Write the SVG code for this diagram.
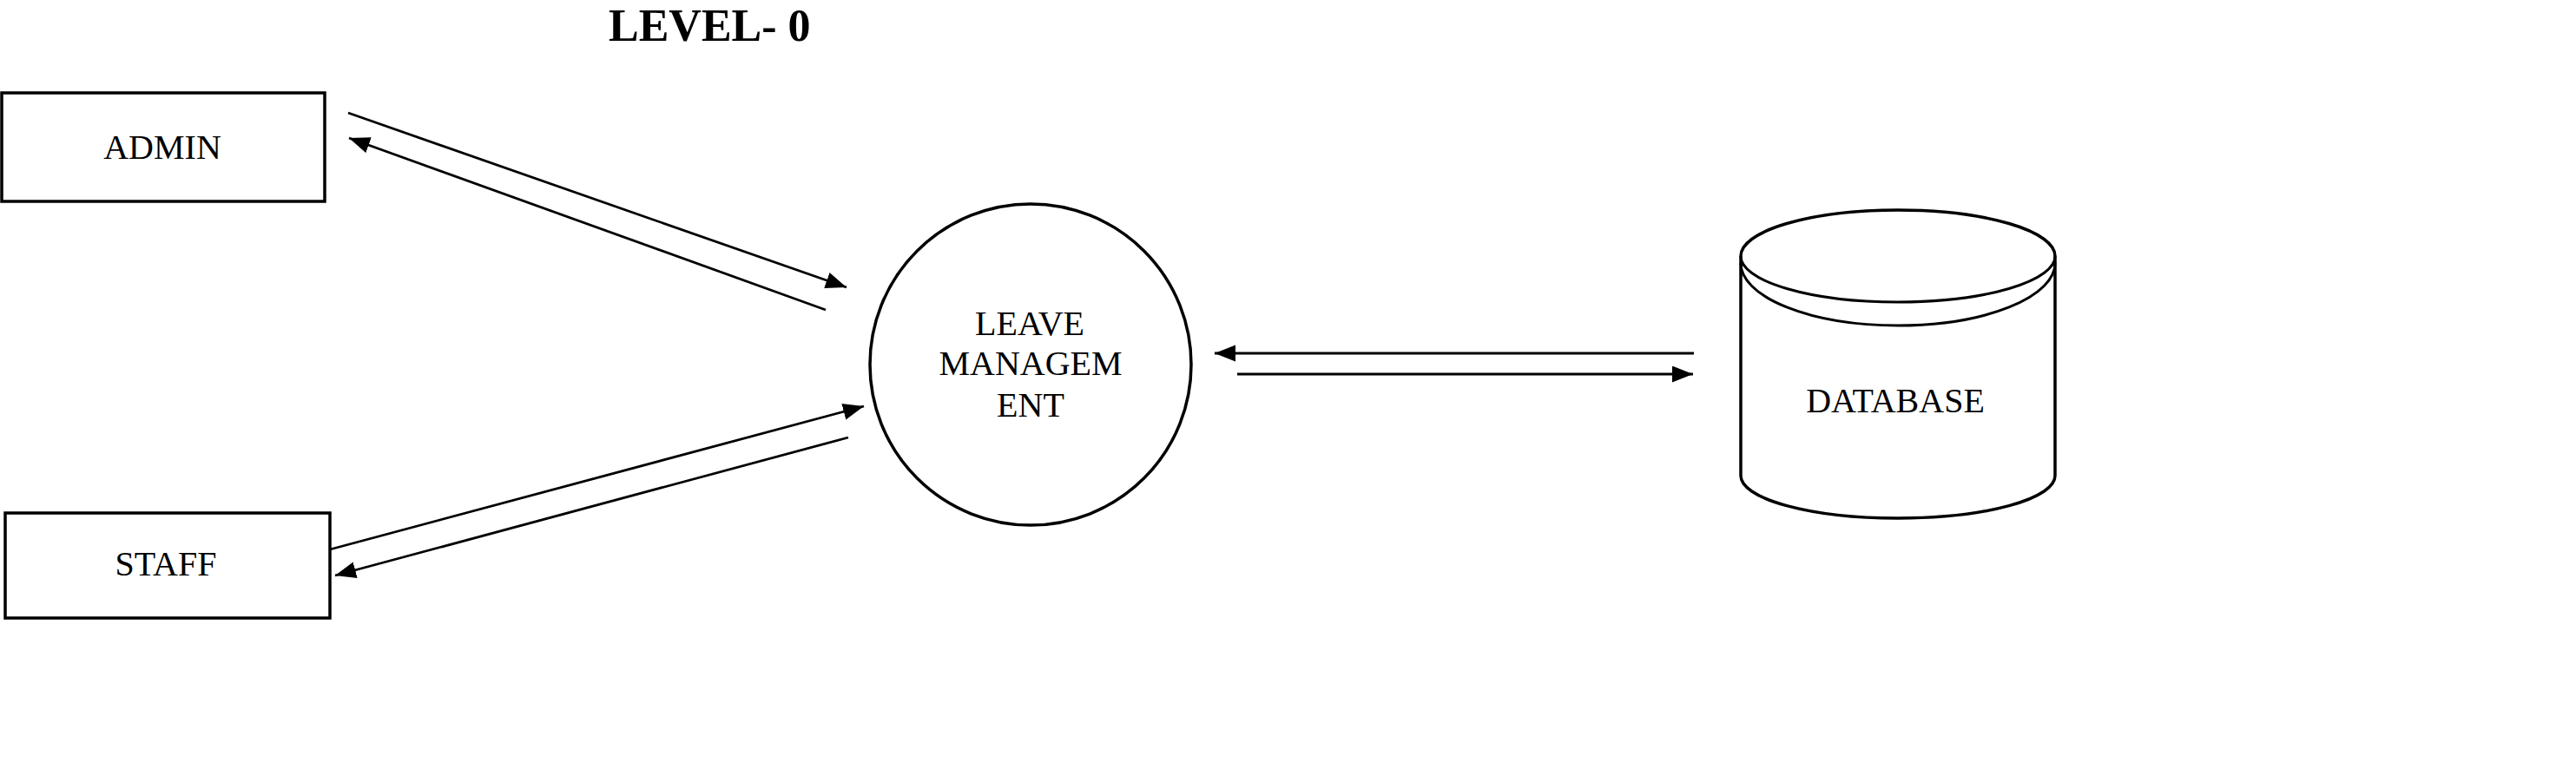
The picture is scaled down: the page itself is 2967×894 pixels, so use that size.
<svg xmlns="http://www.w3.org/2000/svg" width="2967" height="894" viewBox="0 0 2967 894">
<style>
.lbl{font-family:"Liberation Serif","Times New Roman",serif;font-size:40px;fill:#000;text-anchor:middle}
.title{font-family:"Liberation Serif","Times New Roman",serif;font-size:52px;font-weight:bold;fill:#000}
.box{fill:#fff;stroke:#000;stroke-width:3.5}
.shape{fill:#fff;stroke:#000;stroke-width:3.5}
.flow{fill:none;stroke:#000;stroke-width:2.8;marker-end:url(#ah)}
</style>
<defs>
<marker id="ah" markerUnits="userSpaceOnUse" markerWidth="26" markerHeight="20" refX="24" refY="9.5" orient="auto">
<path d="M0,0 L24,9.5 L0,19 z" fill="#000"/>
</marker>
</defs>
<rect width="2967" height="894" fill="#fff"/>
<text class="title" x="701" y="47">LEVEL- 0</text>
<g id="admin">
<rect class="box" x="2" y="107" width="372" height="125"/>
<text class="lbl" x="187" y="183">ADMIN</text>
</g>
<g id="staff">
<rect class="box" x="6" y="591" width="374" height="121"/>
<text class="lbl" x="191" y="663">STAFF</text>
</g>
<g id="leave">
<circle class="shape" cx="1187" cy="420" r="185"/>
<text class="lbl" x="1186" y="386">LEAVE</text>
<text class="lbl" x="1187" y="432">MANAGEM</text>
<text class="lbl" x="1187" y="480">ENT</text>
</g>
<g id="database">
<path class="shape" d="M2005,295 L2005,548 A181,49 0 0 0 2367,548 L2367,295 A181,53 0 0 0 2005,295 Z"/>
<path fill="none" stroke="#000" stroke-width="3" d="M2005,295 A181,53 0 0 0 2367,295"/>
<path fill="none" stroke="#000" stroke-width="3" d="M2005,303 A181,72 0 0 0 2367,303"/>
<text class="lbl" x="2183" y="475">DATABASE</text>
</g>
<g id="connectors">
<line class="flow" x1="401" y1="130" x2="975" y2="331"/>
<line class="flow" x1="951" y1="357" x2="402" y2="159"/>
<line class="flow" x1="380" y1="633" x2="995" y2="468"/>
<line class="flow" x1="977" y1="504" x2="386" y2="663"/>
<line class="flow" x1="1951" y1="407" x2="1399" y2="407"/>
<line class="flow" x1="1425" y1="431" x2="1950" y2="431"/>
</g>
</svg>
